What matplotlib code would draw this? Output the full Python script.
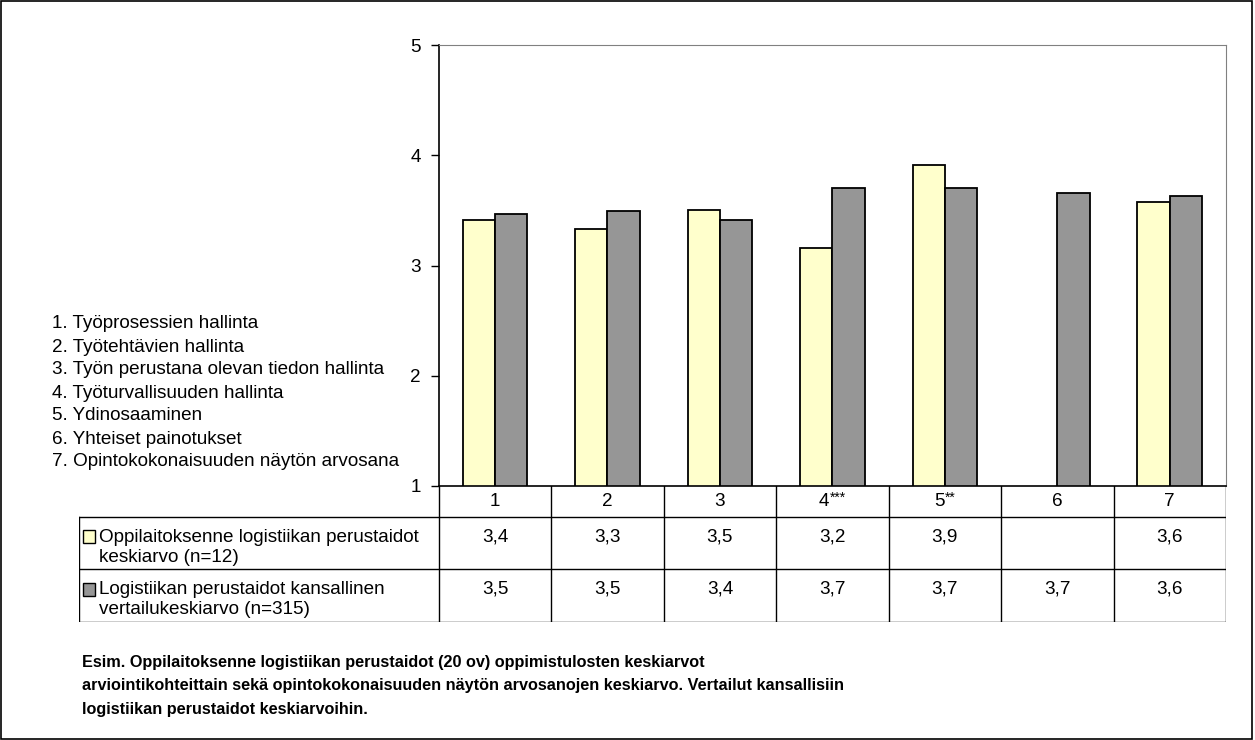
import numpy as np
import matplotlib.pyplot as plt
from matplotlib.patches import Rectangle

plt.rcParams['font.family'] = ['Liberation Sans', 'DejaVu Sans']

categories = ['1', '2', '3', '4***', '5**', '6', '7']
oppilaitos = [3.41, 3.33, 3.50, 3.16, 3.91, np.nan, 3.58]
kansallinen = [3.47, 3.49, 3.41, 3.70, 3.70, 3.66, 3.63]
series_names = ['Oppilaitoksenne logistiikan perustaidot\nkeskiarvo (n=12)',
                'Logistiikan perustaidot kansallinen\nvertailukeskiarvo (n=315)']
colors = ['#FFFFCC', '#969696']
items = ['1. Työprosessien hallinta',
         '2. Työtehtävien hallinta',
         '3. Työn perustana olevan tiedon hallinta',
         '4. Työturvallisuuden hallinta',
         '5. Ydinosaaminen',
         '6. Yhteiset painotukset',
         '7. Opintokokonaisuuden näytön arvosana']
caption = ('Esim. Oppilaitoksenne logistiikan perustaidot (20 ov) oppimistulosten keskiarvot\n'
           'arviointikohteittain sekä opintokokonaisuuden näytön arvosanojen keskiarvo. Vertailut kansallisiin\n'
           'logistiikan perustaidot keskiarvoihin.')

W, H = 1255, 740
fig = plt.figure(figsize=(W / 100, H / 100), dpi=100)

# pixel layout
x0, x1 = 438.7, 1226
y_top, y_bot = 45, 486
tab_left, tab_bot = 79, 622
fs = 13.6

ax = fig.add_axes([x0 / W, 1 - y_bot / H, (x1 - x0) / W, (y_bot - y_top) / H])
x = np.arange(1, len(categories) + 1)
bw = 0.287
ax.bar(x - bw / 2, oppilaitos, bw, bottom=0, color=colors[0], edgecolor='black', linewidth=1.3)
ax.bar(x + bw / 2, kansallinen, bw, bottom=0, color=colors[1], edgecolor='black', linewidth=1.3)
ax.set_xlim(0.5, len(categories) + 0.5)
ax.set_ylim(1, 5)
ax.set_yticks([1, 2, 3, 4, 5])
ax.tick_params(axis='y', length=6, width=1, labelsize=fs, pad=7)
ax.set_xticks([])
for s in ['top', 'right']:
    ax.spines[s].set_color('#808080')
ax.spines['left'].set_linewidth(1.2)
ax.spines['bottom'].set_linewidth(1.2)

# data table
ux = (x1 - x0) / len(categories)
tab_xmin = 0.5 - (x0 - tab_left) / ux
tax = fig.add_axes([tab_left / W, 1 - tab_bot / H, (x1 - tab_left) / W, (tab_bot - y_bot) / H])
tax.set_xlim(tab_xmin, len(categories) + 0.5)
tax.set_ylim(tab_bot - y_bot, 0)
tax.axis('off')
rows = [0, 30.5, 83, 136]
lc = 'black'
for b in np.arange(0.5, len(categories) + 1, 1):
    tax.plot([b, b], [rows[0], rows[3]], color=lc, lw=1)
tax.plot([tab_xmin, tab_xmin], [rows[1], rows[3]], color=lc, lw=1)
for r in rows[1:]:
    tax.plot([tab_xmin, len(categories) + 0.5], [r, r], color=lc, lw=1)

# header labels, stars drawn smaller and raised
sfs = 10
for xi, c in zip(x, categories):
    base = c.rstrip('*')
    stars = c[len(base):]
    dw = 0.556 * fs * len(base)
    sw = 0.389 * sfs * len(stars)
    off = (dw - sw) / 2
    tax.annotate(base, (xi, 15.5), xytext=(off, 0), textcoords='offset points',
                 ha='right', va='center', fontsize=fs)
    if stars:
        tax.annotate(stars, (xi, 15.5), xytext=(off, 3), textcoords='offset points',
                     ha='left', va='center', fontsize=sfs)

for ri, vals in enumerate([oppilaitos, kansallinen]):
    ytxt = rows[ri + 1] + 20
    for xi, v in zip(x, vals):
        if not np.isnan(v):
            tax.text(xi, ytxt, f'{v:.1f}'.replace('.', ','), ha='center', va='center', fontsize=fs)
    # legend key
    kx = tab_xmin + 4 / ux
    tax.add_patch(Rectangle((kx, ytxt - 6.5), 12 / ux, 13, facecolor=colors[ri],
                            edgecolor='black', lw=1))
    tax.text(kx + 16 / ux, ytxt - 8, series_names[ri], ha='left', va='top', fontsize=fs,
             linespacing=1.25)

# left list of items
for i, t in enumerate(items):
    fig.text(52 / W, 1 - (324 + 23 * i) / H, t, ha='left', va='center', fontsize=fs)

fig.text(82 / W, 1 - 655 / H, caption, ha='left', va='top', fontsize=11.7,
         fontweight='bold', linespacing=1.7)

# outer border
fig.add_artist(Rectangle((0.001, 0.001), 0.997, 0.997, transform=fig.transFigure,
                         fill=False, edgecolor='black', lw=1.2))

fig.savefig('out.png', dpi=100)
